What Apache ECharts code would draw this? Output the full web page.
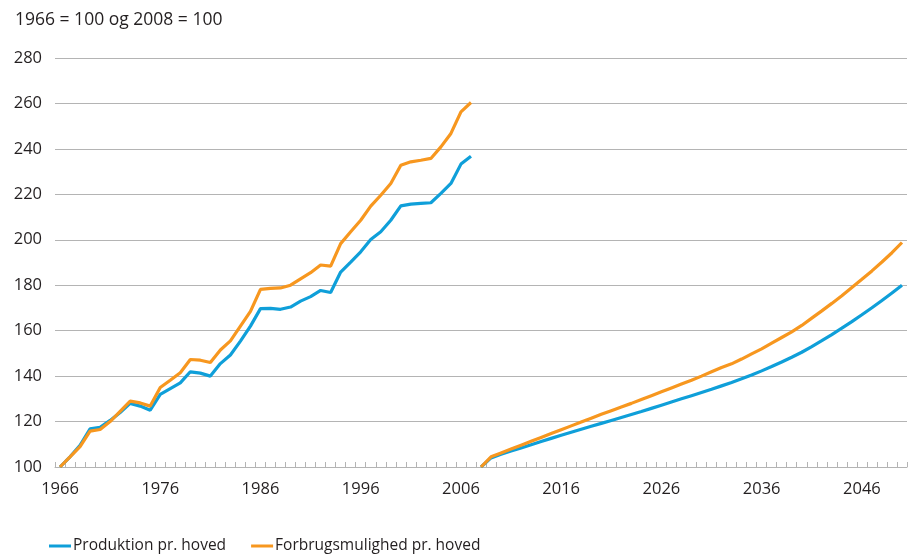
<!DOCTYPE html>
<html>
<head>
<meta charset="utf-8">
<script src="https://cdn.jsdelivr.net/npm/echarts@6/dist/echarts.min.js"></script>
<style>
  html, body { margin: 0; padding: 0; background: #fff; }
  #chart { width: 911px; height: 555px; }
</style>
</head>
<body>
<div id="chart"></div>
<script>
// år 1966-2050
const years = [];
for (let y = 1966; y <= 2050; y++) years.push(String(y));

// historisk, 1966-2007 (1966 = 100)
const prodHist = [100, 104.5, 109.5, 116.8, 117.5, 120.5, 124, 128, 126.8, 125,
  132, 134.5, 137, 141.9, 141.3, 140, 145.5, 149.3, 155.4, 162,
  169.7, 169.8, 169.4, 170.4, 173, 175, 177.7, 176.8, 185.8, 190.2,
  194.7, 200.1, 203.5, 208.6, 214.9, 215.7, 216, 216.3, 220.4, 224.8,
  233.3, 236.8];
const forbrugHist = [100, 104.5, 109, 115.8, 116.5, 120, 124.5, 129, 128.2, 126.8,
  135, 138.2, 141.5, 147.3, 147, 146, 151.5, 155.5, 162, 168.5,
  178.2, 178.6, 178.8, 180, 182.8, 185.5, 188.9, 188.4, 198.3, 203.5,
  208.6, 214.8, 219.6, 224.8, 232.8, 234.3, 235, 235.8, 240.9, 246.8,
  256.3, 260.4];

// fremskrivning, 2008-2050 (2008 = 100)
const prodProj = [100, 104, 105.6, 107, 108.4, 109.8, 111.2, 112.6, 114, 115.3,
  116.6, 117.9, 119.2, 120.5, 121.8, 123.1, 124.4, 125.8, 127.2, 128.6,
  130, 131.4, 132.8, 134.2, 135.7, 137.2, 138.8, 140.5, 142.3, 144.2,
  146.2, 148.3, 150.5, 153, 155.6, 158.3, 161.1, 164, 167, 170.1,
  173.3, 176.6, 180];
const forbrugProj = [100, 104.5, 106.2, 107.9, 109.6, 111.3, 113, 114.7, 116.4, 118.1,
  119.8, 121.5, 123.2, 124.8, 126.4, 128, 129.7, 131.4, 133.1, 134.8,
  136.5, 138.2, 140, 141.9, 143.8, 145.4, 147.5, 149.8, 152, 154.5,
  157, 159.5, 162.3, 165.5, 168.7, 172, 175.4, 179, 182.6, 186.3,
  190.2, 194.3, 198.8];

const yTicks = { min: 100, max: 280, step: 20 };

const nameProd = "Produktion pr. hoved";
const nameForbrug = "Forbrugsmulighed pr. hoved";

function pad(arr, before, total) {
  const out = [];
  for (let i = 0; i < total; i++) {
    const j = i - before;
    out.push(j >= 0 && j < arr.length ? arr[j] : null);
  }
  return out;
}
const nHist = prodHist.length;

const blue = "#0f9fd9";
const orange = "#f7971f";
const txt = "#231f20";
const grey = "#b4b4b4";
const font = "Open Sans";

const chart = echarts.init(document.getElementById("chart"));

function lineSeries(name, color, data) {
  return {
    name: name,
    type: "line",
    data: data,
    showSymbol: false,
    symbol: "none",
    connectNulls: false,
    lineStyle: { width: 3.2, color: color },
    itemStyle: { color: color },
    animation: false,
  };
}

const option = {
  animation: false,
  textStyle: { fontFamily: font },
  title: {
    text: "1966 = 100 og 2008 = 100",
    left: 10,
    top: 6,
    textStyle: { fontSize: 17.5, fontWeight: "normal", color: txt, fontFamily: font },
  },
  legend: {
    data: [nameProd, nameForbrug],
    left: 44,
    top: 533,
    icon: "rect",
    itemWidth: 22,
    itemHeight: 3,
    itemGap: 25,
    textStyle: { fontSize: 15.5, color: txt, fontFamily: font, padding: [0, 0, 0, -3] },
  },
  grid: { left: 55, right: 4, top: 58, bottom: 88, containLabel: false },
  xAxis: {
    type: "category",
    data: years,
    boundaryGap: true,
    axisLine: { lineStyle: { color: grey, width: 1 } },
    axisTick: { show: true, inside: true, length: 5, interval: 0, lineStyle: { color: grey } },
    axisLabel: { interval: 9, fontSize: 16.5, color: txt, margin: 14 },
    splitLine: { show: false },
  },
  yAxis: {
    type: "value",
    min: yTicks.min,
    max: yTicks.max,
    interval: yTicks.step,
    axisLine: { show: false },
    axisTick: { show: false },
    axisLabel: { fontSize: 16.5, color: txt, margin: 13 },
    splitLine: { lineStyle: { color: grey, width: 1 } },
  },
  series: [
    lineSeries(nameProd, blue, pad(prodHist, 0, years.length)),
    lineSeries(nameProd, blue, pad(prodProj, nHist, years.length)),
    lineSeries(nameForbrug, orange, pad(forbrugHist, 0, years.length)),
    lineSeries(nameForbrug, orange, pad(forbrugProj, nHist, years.length)),
  ],
};

chart.setOption(option);
</script>
</body>
</html>
